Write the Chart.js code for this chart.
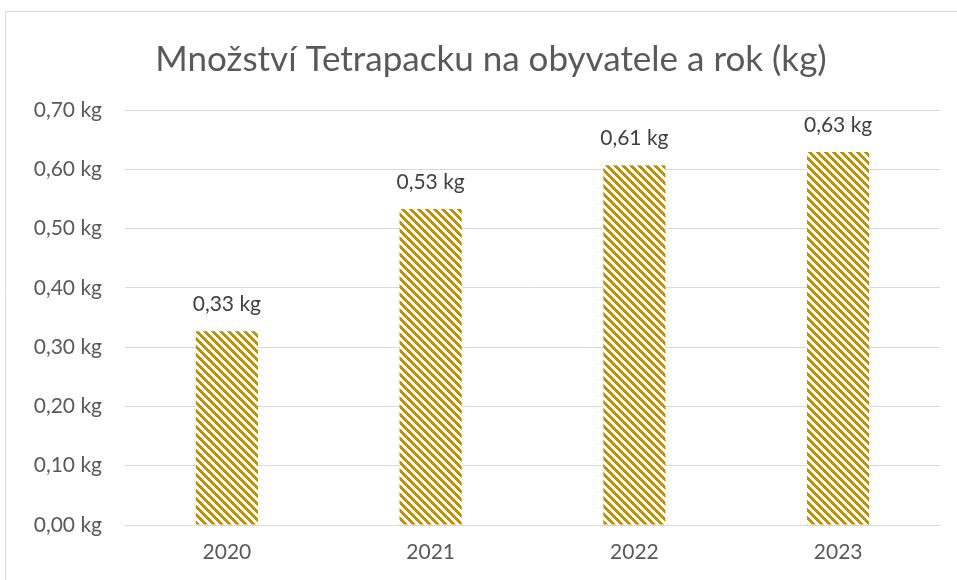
<!DOCTYPE html>
<html>
<head>
<meta charset="utf-8">
<script src="https://cdn.jsdelivr.net/npm/chart.js@4"></script>
<style>
  html, body { margin: 0; padding: 0; background: #fff; }
  #wrap { width: 957px; height: 580px; }
</style>
</head>
<body>
<div id="wrap"><canvas id="myChart" width="957" height="580"></canvas></div>
<script>
// data
const years = ['2020', '2021', '2022', '2023'];
const kgPerPerson = [0.327, 0.533, 0.607, 0.629];
const yTicks = [0, 0.1, 0.2, 0.3, 0.4, 0.5, 0.6, 0.7];
const chartTitle = 'Množství Tetrapacku na obyvatele a rok (kg)';

const gold = '#BF9000';
const fontName = 'Lato, "Noto Sans", sans-serif';

function fmtKg(v) {
    return v.toFixed(2).replace('.', ',') + ' kg';
}

// diagonal stripe pattern like Excel's hatch fill
function makeStripes() {
    const c = document.createElement('canvas');
    c.width = 8; c.height = 8;
    const cx = c.getContext('2d');
    cx.fillStyle = '#fff';
    cx.fillRect(0, 0, 8, 8);
    cx.fillStyle = gold;
    for (let y = 0; y < 8; y++) {
        for (let x = 0; x < 8; x++) {
            if (((x - y) % 8 + 8) % 8 < 4) cx.fillRect(x, y, 1, 1);
        }
    }
    return document.getElementById('myChart').getContext('2d').createPattern(c, 'repeat');
}

// value labels above bars
const valueLabels = {
    id: 'valueLabels',
    afterDatasetsDraw(chart) {
        const ctx = chart.ctx;
        const meta = chart.getDatasetMeta(0);
        ctx.save();
        ctx.font = '21px ' + fontName;
        ctx.fillStyle = '#404040';
        ctx.textAlign = 'center';
        ctx.textBaseline = 'middle';
        meta.data.forEach((bar, i) => {
            ctx.fillText(fmtKg(chart.data.datasets[0].data[i]), bar.x, bar.y - 27);
        });
        ctx.restore();
    }
};

// outer chart frame (only top and left visible), title a bit right of center
const frame = {
    id: 'frame',
    afterLayout(chart) {
        if (chart.titleBlock) chart.titleBlock.left += 42;
    },
    beforeDraw(chart) {
        const ctx = chart.ctx;
        ctx.save();
        ctx.strokeStyle = '#d9d9d9';
        ctx.lineWidth = 1;
        ctx.beginPath();
        ctx.moveTo(5.5, 580);
        ctx.lineTo(5.5, 11.5);
        ctx.lineTo(957, 11.5);
        ctx.stroke();
        ctx.restore();
    }
};

new Chart(document.getElementById('myChart'), {
    type: 'bar',
    data: {
        labels: years,
        datasets: [{
            data: kgPerPerson,
            backgroundColor: makeStripes(),
            borderWidth: 0,
            categoryPercentage: 1,
            barPercentage: 0.305
        }]
    },
    options: {
        responsive: false,
        animation: false,
        layout: { padding: { left: 0, right: 17, top: 0, bottom: 0 } },
        plugins: {
            legend: { display: false },
            tooltip: { enabled: false },
            title: {
                display: true,
                text: chartTitle,
                color: '#595959',
                font: { family: fontName, size: 35, weight: 'normal' },
                padding: { top: 39, bottom: 29 }
            }
        },
        scales: {
            x: {
                afterFit(s) { s.height = 55; },
                grid: { display: false, drawTicks: false },
                border: { color: '#d9d9d9' },
                ticks: { color: '#595959', font: { family: fontName, size: 21 }, padding: 15 }
            },
            y: {
                min: 0,
                max: 0.7,
                afterFit(s) { s.width = 125; },
                afterBuildTicks(s) { s.ticks = yTicks.map(v => ({ value: v })); },
                grid: { color: '#d9d9d9', drawTicks: false },
                border: { display: false },
                ticks: {
                    color: '#595959',
                    font: { family: fontName, size: 21 },
                    padding: 23,
                    callback: v => fmtKg(v)
                }
            }
        }
    },
    plugins: [valueLabels, frame]
});
</script>
</body>
</html>
